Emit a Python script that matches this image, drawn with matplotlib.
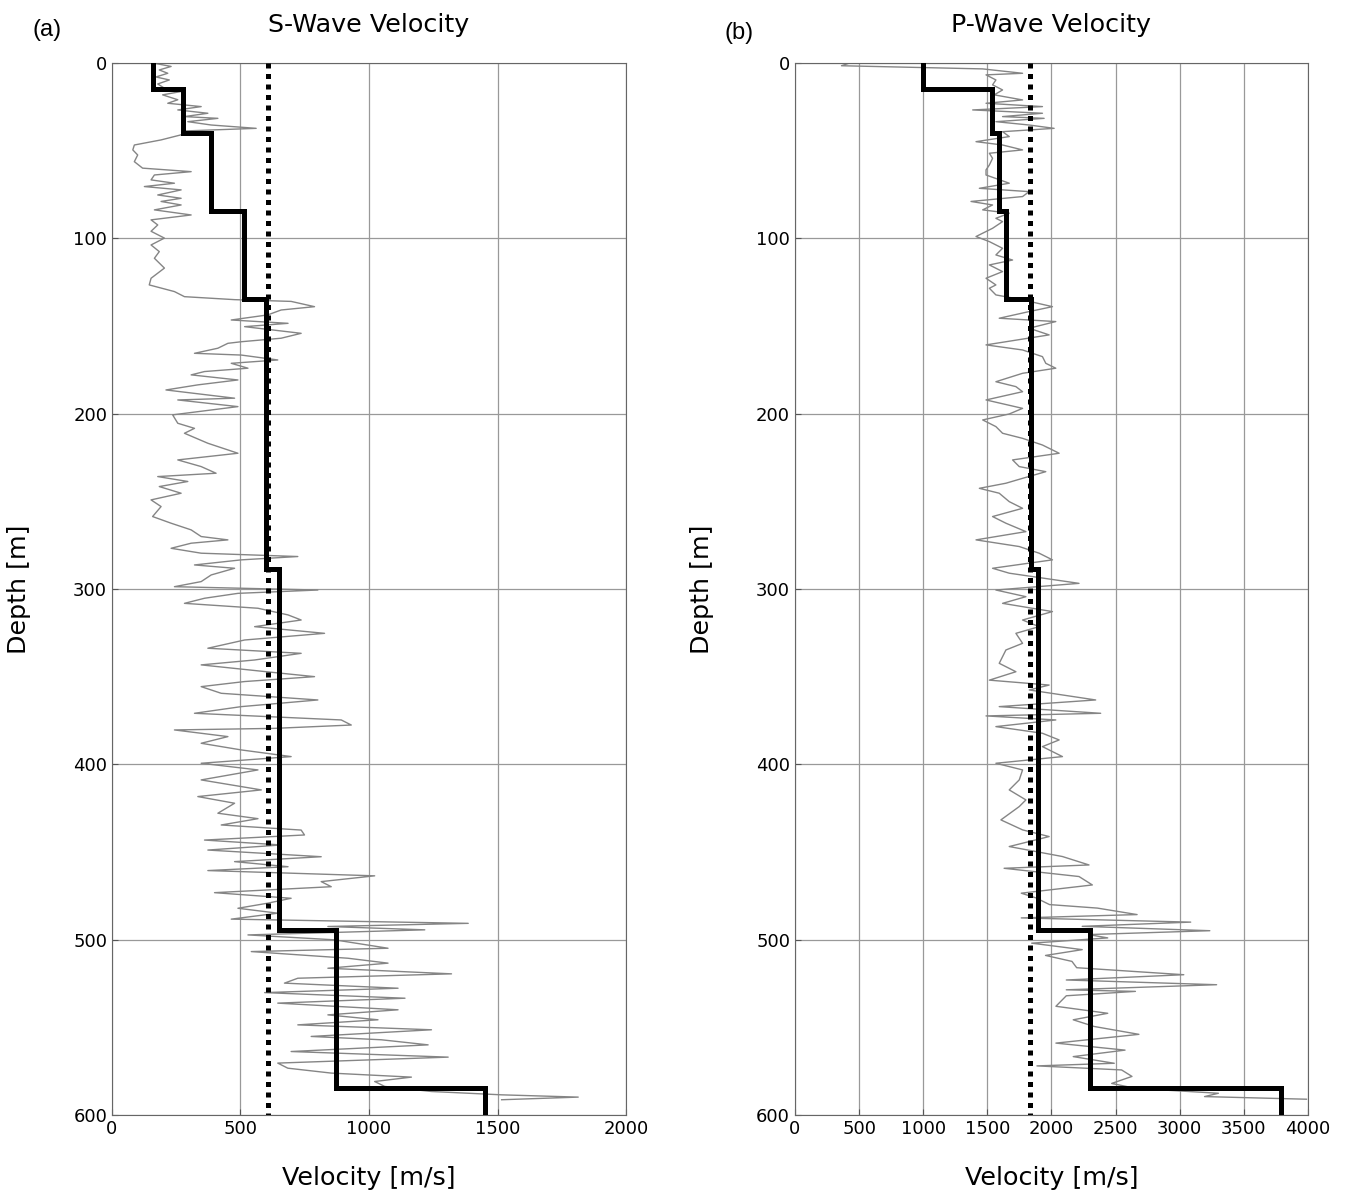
import matplotlib
matplotlib.use("Agg")
import matplotlib.pyplot as plt
import numpy as np

# layered model (layer boundaries in m, velocity per layer in m/s)
layer_bounds = [0, 15, 40, 84.5, 134.5, 288.5, 494.5, 584.5, 600]
vs_layers = [158, 275, 386, 514, 601, 650, 872, 1450]
vp_layers = [1000, 1538, 1595, 1647, 1840, 1898, 2303, 3787]
vs30_line = 607
vp30_line = 1836

# measured S-wave log, (depth m, velocity m/s)
vs_log = [
    (0.2, 165), (2, 230), (4, 184), (5.9, 217), (8, 171), (9.7, 223), (12, 178), (14.4, 204),
    (16.3, 269), (18.2, 197), (21, 256), (23, 217), (24.9, 347), (26.8, 256), (28.7, 373),
    (30.6, 282), (31.6, 412), (33.5, 295), (35.4, 386), (37.3, 561), (38.8, 282), (41, 269),
    (43.9, 191), (46.8, 87), (49.6, 81), (52.5, 100), (56.3, 87), (60, 119), (62, 308),
    (63.9, 165), (66.7, 152), (68.6, 243), (70.5, 126), (72.4, 269), (75.3, 178), (77.2, 269),
    (79, 191), (81, 269), (83.8, 165), (86.7, 308), (89.5, 152), (92.4, 178), (96, 152),
    (99.9, 204), (103.8, 152), (107.6, 184), (111.4, 165), (117, 204), (122.8, 152),
    (126.6, 145), (130.4, 243), (133.3, 282), (135, 477), (136, 697), (139, 788), (140.9, 658),
    (143.7, 606), (146.6, 464), (148.5, 685), (150.4, 516), (154.2, 736), (157, 658),
    (159, 503), (159.9, 451), (162.7, 412), (165.6, 321), (166.6, 503), (169.4, 645),
    (171.3, 464), (174.1, 529), (176, 360), (177.9, 308), (180.8, 490), (183.6, 334),
    (186.5, 210), (189.4, 373), (191.2, 477), (192.2, 256), (196, 490), (200.7, 236),
    (205.5, 256), (208.4, 321), (211.2, 282), (216.9, 373), (222.6, 490), (226.4, 256),
    (230.2, 347), (234, 405), (235.9, 178), (238.7, 295), (241.6, 184), (245.4, 269),
    (249.2, 152), (253, 191), (258.7, 158), (262.5, 230), (266.3, 308), (270.1, 347),
    (272, 451), (273.9, 308), (276.8, 230), (279.6, 347), (281.5, 723), (283.4, 503),
    (286.3, 321), (288.2, 477), (292, 386), (295.8, 347), (298.7, 243), (300.6, 801),
    (302.5, 490), (305.3, 360), (308.2, 282), (311, 568), (314.8, 685), (317.7, 736),
    (321.5, 555), (325.3, 827), (329.1, 516), (333.8, 373), (336.7, 736), (340.5, 555),
    (343.3, 347), (347.1, 594), (350, 788), (352.8, 516), (355.7, 347), (359.5, 425),
    (363.3, 801), (367.1, 503), (370.9, 321), (374.7, 892), (377.6, 931), (379.5, 632),
    (380.4, 243), (384.2, 451), (388, 347), (391.8, 503), (395.6, 697), (399.4, 347),
    (403.2, 568), (408.9, 347), (414.6, 581), (418.4, 334), (422.2, 477), (427.9, 412),
    (431, 568), (434.6, 425), (437.5, 736), (440.3, 749), (443.2, 360), (446, 658),
    (448.9, 373), (452.7, 814), (455.5, 477), (458.4, 685), (460.6, 373), (463.6, 1022),
    (466.9, 814), (469.8, 853), (473.2, 399), (476.4, 697), (479.2, 606), (482.1, 490),
    (484.9, 645), (488.3, 464), (490.7, 1386), (492.5, 840), (494.4, 1217), (497.3, 529),
    (500.1, 866), (504.9, 1074), (506.8, 542), (510.6, 918), (513.4, 1074), (516.3, 840),
    (519.5, 1321), (522, 723), (524.8, 671), (527.7, 1113), (530.2, 594), (533.4, 1140),
    (536.2, 645), (540, 1113), (542.9, 840), (545.7, 1035), (548.6, 723), (551.4, 1243),
    (555.2, 775), (557.1, 1048), (560, 1230), (563.8, 697), (567, 1308), (570.4, 645),
    (573.3, 684), (576.1, 853), (578.4, 1165), (580.9, 1022), (583.7, 1061), (586.6, 1243),
    (588.5, 1516), (589.8, 1814), (591.3, 1516),
]

# measured P-wave log, (depth m, velocity m/s)
vp_log = [
    (0, 428), (1.6, 363), (3.4, 1464), (5.9, 1775), (6.8, 1490), (9.7, 1567), (12.5, 1541),
    (15.4, 1619), (18.2, 1554), (21.1, 1775), (23, 1490), (24.9, 1930), (26.8, 1386),
    (28.7, 1930), (30.6, 1619), (31.6, 1943), (33.5, 1567), (35.4, 1826), (37.3, 2021),
    (39.2, 1619), (42, 1671), (44.9, 1412), (46.8, 1619), (49.6, 1775), (51.5, 1516),
    (54.4, 1541), (58.2, 1516), (61, 1490), (63.9, 1490), (68.6, 1671), (71.5, 1438),
    (73.4, 1826), (76.2, 1775), (79, 1373), (81, 1541), (83.8, 1464), (85.7, 1671),
    (88.6, 1567), (90.5, 1619), (94.3, 1541), (99, 1412), (101.9, 1516), (105.7, 1619),
    (109.5, 1567), (112.4, 1697), (115.2, 1516), (119, 1619), (122.8, 1490), (126.6, 1567),
    (128.5, 1516), (132.3, 1567), (135.1, 1775), (139, 2008), (141.8, 1826), (145.6, 1593),
    (147.5, 2034), (151.3, 1826), (155.1, 1982), (160.8, 1490), (163.7, 1775), (167.5, 1930),
    (171.3, 1956), (174.1, 2034), (177, 1775), (181.8, 1567), (184.6, 1723), (187.5, 1775),
    (192.2, 1490), (197, 1775), (200.2, 1671), (203.6, 1464), (207.4, 1567), (211.2, 1619),
    (214.1, 1775), (217.9, 1930), (222.6, 2060), (226.4, 1697), (230.2, 1749), (233.1, 1956),
    (236.9, 1775), (239.7, 1645), (242.6, 1438), (245.4, 1593), (250.2, 1671), (254, 1775),
    (258.7, 1541), (262.5, 1645), (267.3, 1801), (272, 1412), (275.8, 1749), (279.6, 1904),
    (283.4, 2008), (288.2, 1541), (291, 1671), (296.8, 2215), (300.6, 1567), (304.4, 1801),
    (308.2, 1619), (312.9, 2008), (317.7, 1775), (321.5, 1904), (325.3, 1723), (331, 1775),
    (334.8, 1645), (342.4, 1593), (347.2, 1723), (352, 1516), (354.8, 1982), (357.6, 1827),
    (363.3, 2345), (367.1, 1593), (370.9, 2384), (372.4, 1490), (374.7, 2034), (378.5, 1567),
    (382.3, 1930), (386.1, 2060), (389.9, 1930), (395.6, 2086), (399.4, 1567), (403.2, 1775),
    (408.9, 1749), (414.6, 1671), (420.3, 1801), (424.1, 1749), (431.7, 1606), (437.4, 1775),
    (441.2, 1982), (446.9, 1671), (452.6, 2086), (457.4, 2293), (459.3, 1631), (464, 2215),
    (468.8, 2319), (473.5, 1765), (476.2, 1880), (480, 1985), (482, 2358), (485.7, 2668),
    (487.6, 1765), (490, 3086), (492.4, 2240), (494.9, 3235), (497.1, 2290), (499, 2439),
    (502, 1846), (505.7, 2240), (509, 1954), (512.4, 2160), (516, 2197), (520, 3032),
    (523, 2116), (525.7, 3288), (528.6, 2116), (529.5, 2655), (532, 2116), (538, 2035),
    (542, 2439), (545.7, 2170), (549.5, 2332), (554, 2682), (559, 2035), (563, 2574),
    (566.7, 2170), (570.5, 2490), (572, 1887), (574.3, 2547), (578, 2628), (582, 2470),
    (584.8, 2655), (587.6, 3302), (589.5, 3194), (591, 3989),
]


def model_xy(bounds, vels):
    y = np.repeat(bounds, 2)[1:-1]
    x = np.repeat(vels, 2)
    return x, y


fig = plt.figure(figsize=(13.46, 11.92), dpi=100)
ax1 = fig.add_axes([0.0832, 0.0646, 0.3819, 0.8826])
ax2 = fig.add_axes([0.5906, 0.0646, 0.3811, 0.8826])

panels = [
    (ax1, vs_log, vs_layers, vs30_line, 2000, 'S-Wave Velocity', '(a)', 0.035, 0.975),
    (ax2, vp_log, vp_layers, vp30_line, 4000, 'P-Wave Velocity', '(b)', 0.549, 0.972),
]

for ax, log, layers, vline, xmax, title, tag, tx, ty in panels:
    dep, vel = zip(*log)
    ax.plot(vel, dep, color='#858585', lw=1.0, zorder=2)
    mx, my = model_xy(layer_bounds, layers)
    ax.plot(mx, my, color='black', lw=3.6, solid_joinstyle='miter', zorder=4)
    ax.plot([vline, vline], [0, 600], color='black', lw=3.6,
            linestyle=(0, (1, 1.1)), zorder=3)
    ax.set_xlim(0, xmax)
    ax.set_ylim(600, 0)
    ax.set_xticks(np.arange(0, xmax + 1, 500))
    ax.set_yticks(np.arange(0, 601, 100))
    ax.grid(True, color='#999999', lw=0.9)
    ax.set_axisbelow(True)
    ax.tick_params(labelsize=13, direction='in', length=4, color='#555555')
    for sp in ax.spines.values():
        sp.set_color('#666666')
    ax.set_title(title, fontsize=18.3, pad=22)
    ax.set_xlabel('Velocity [m/s]', fontsize=18.3, labelpad=20)
    ax.set_ylabel('Depth [m]', fontsize=18.3, labelpad=30)
    fig.text(tx, ty, tag, fontsize=17, family='Liberation Sans', ha='center', va='center')

plt.savefig('out.png', dpi=100)
plt.close(fig)
